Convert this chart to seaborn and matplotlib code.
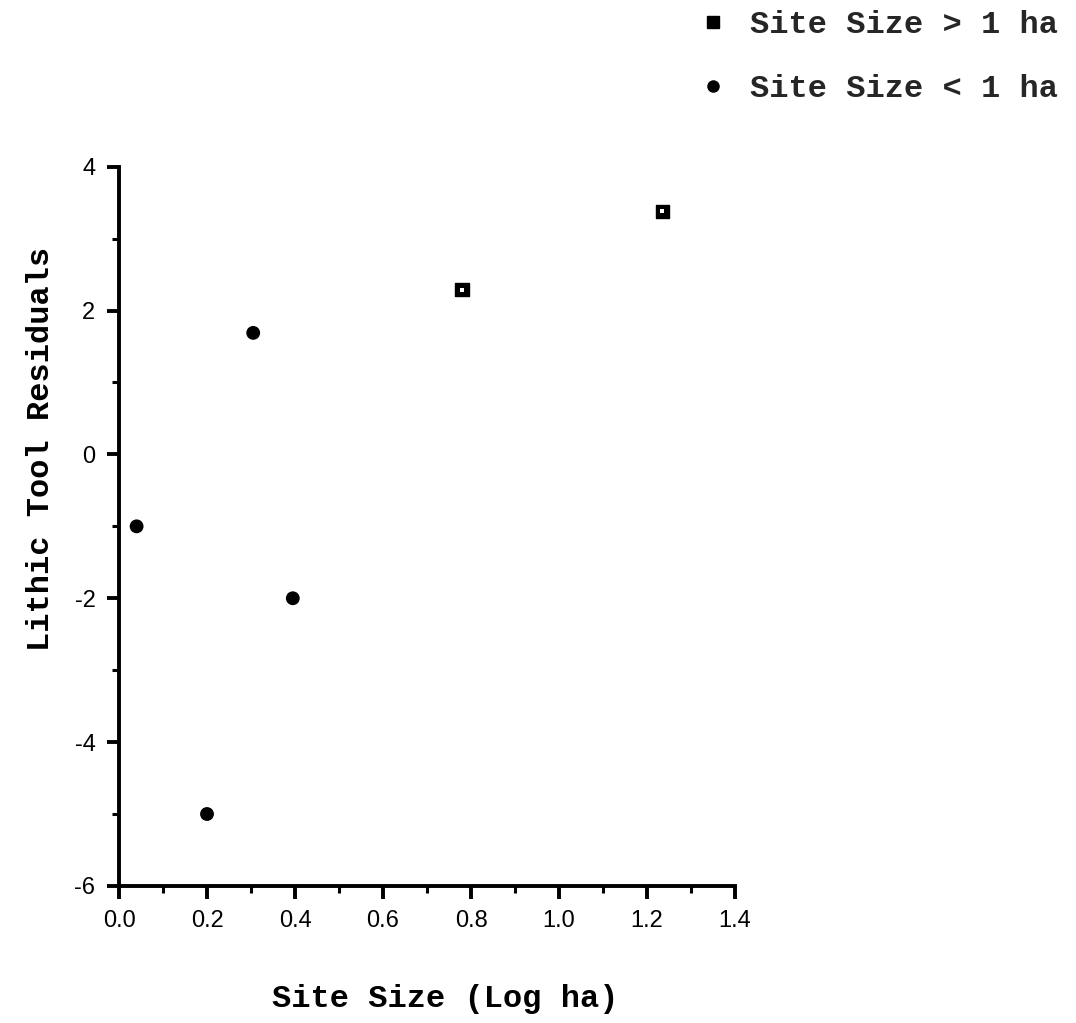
import matplotlib
matplotlib.use("Agg")
import matplotlib.pyplot as plt
import seaborn as sns
import pandas as pd
from matplotlib.ticker import MultipleLocator, FormatStrFormatter
from matplotlib.lines import Line2D

# Data
small_x = [0.04, 0.20, 0.305, 0.395]
small_y = [-1.0, -5.0, 1.69, -2.0]
large_x = [0.78, 1.235]
large_y = [2.29, 3.38]
label_large = "Site Size > 1 ha"
label_small = "Site Size < 1 ha"

df = pd.DataFrame({
    "x": large_x + small_x,
    "y": large_y + small_y,
    "group": [label_large] * len(large_x) + [label_small] * len(small_x),
})

sns.set_theme(style="ticks")
mono = ["Liberation Mono", "DejaVu Sans Mono"]
sans = ["Liberation Sans", "DejaVu Sans"]
plt.rcParams["font.family"] = sans

fig = plt.figure(figsize=(10.76, 10.23), dpi=100)
ax = fig.add_axes([0.1106, 0.134, 0.5725, 0.703])

sns.scatterplot(data=df, x="x", y="y", style="group", hue="group",
                markers={label_large: "s", label_small: "o"},
                palette={label_large: "black", label_small: "black"},
                size="group", sizes={label_large: 95, label_small: 80},
                edgecolor="black", linewidth=1, ax=ax, legend=False)
# small white centre in the squares
ax.scatter(large_x, large_y, marker="s", s=9, facecolor="white", edgecolor="none", zorder=5)

ax.set_xlim(0, 1.4)
ax.set_ylim(-6, 4)
ax.xaxis.set_major_locator(MultipleLocator(0.2))
ax.xaxis.set_minor_locator(MultipleLocator(0.1))
ax.yaxis.set_major_locator(MultipleLocator(2))
ax.yaxis.set_minor_locator(MultipleLocator(1))
ax.xaxis.set_major_formatter(FormatStrFormatter("%.1f"))
ax.yaxis.set_major_formatter(FormatStrFormatter("%d"))

for side in ["top", "right"]:
    ax.spines[side].set_visible(False)
for side in ["left", "bottom"]:
    ax.spines[side].set_linewidth(2.8)
    ax.spines[side].set_color("black")

ax.tick_params(which="major", length=9, width=2.8, color="black", pad=8,
               labelsize=17, labelcolor="black")
ax.tick_params(which="minor", length=5, width=2.2, color="black")

ax.set_xlabel("Site Size (Log ha)", family=mono, fontsize=23, fontweight="bold",
              color="black")
ax.set_ylabel("Lithic Tool Residuals", family=mono, fontsize=23, fontweight="bold",
              color="black")
ax.xaxis.set_label_coords(0.529, -0.136)
ax.yaxis.set_label_coords(-0.103, 0.608)

# legend in top right
handles = [
    Line2D([], [], marker="s", color="black", linestyle="none", markersize=8),
    Line2D([], [], marker="o", color="black", linestyle="none", markersize=8),
]
leg = fig.legend(handles, [label_large, label_small], loc="upper right",
                 bbox_to_anchor=(0.989, 0.996), frameon=False,
                 prop={"family": mono, "size": 23, "weight": "bold"},
                 labelspacing=1.06, handletextpad=0.75, handlelength=0.8,
                 borderpad=0.2, borderaxespad=0)

fig.savefig("out.png", dpi=100, facecolor="white")
